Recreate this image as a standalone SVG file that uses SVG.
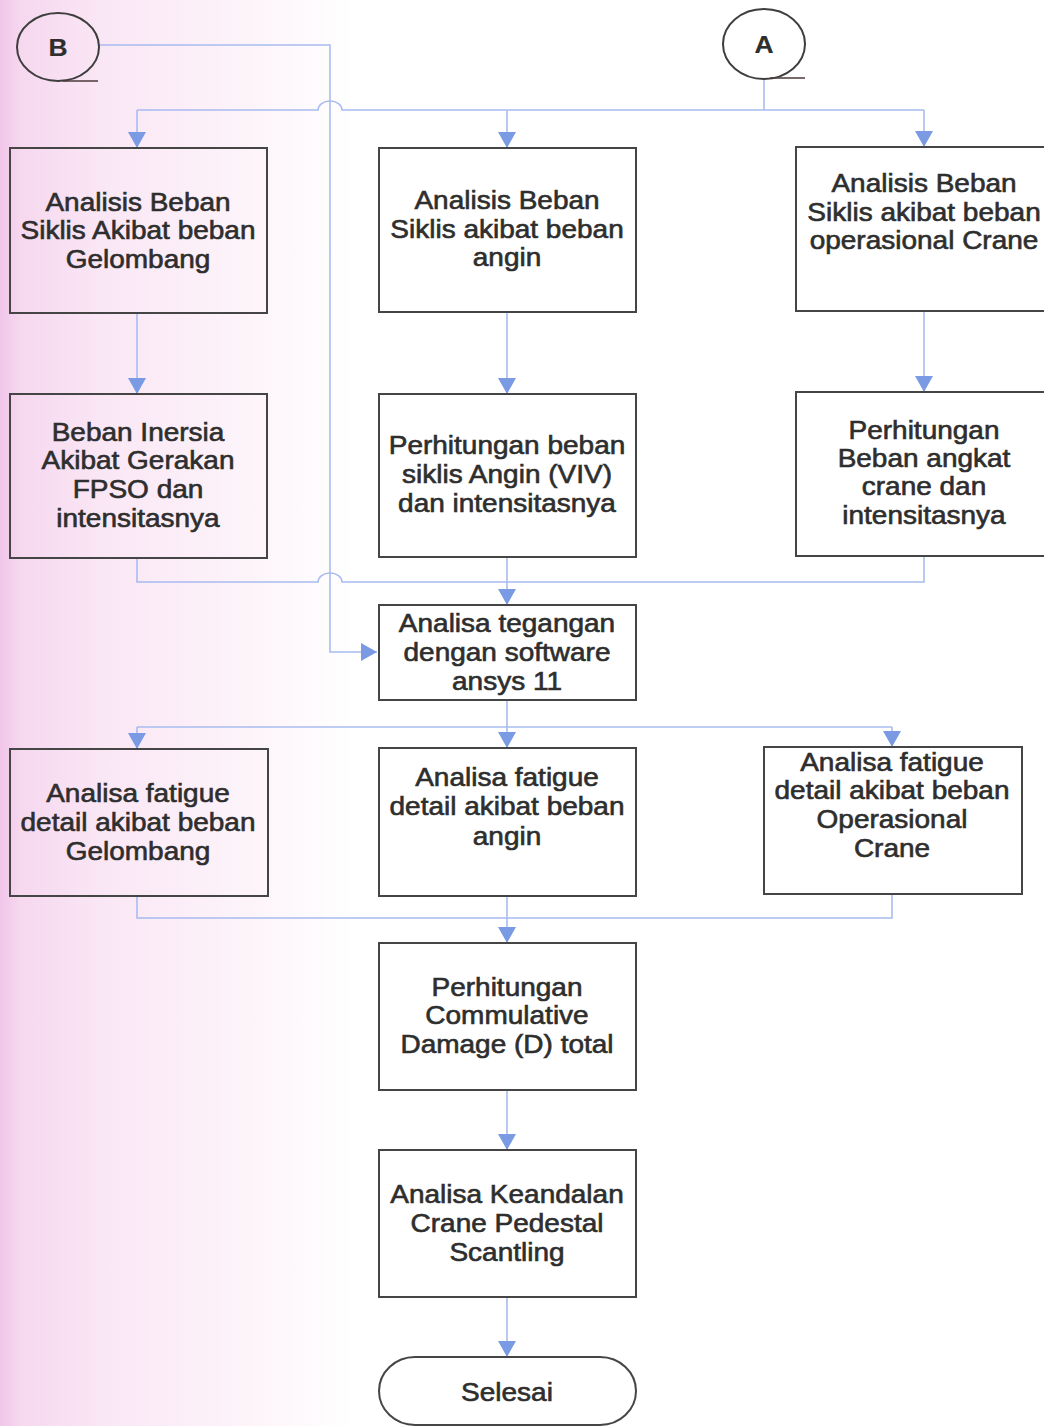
<svg xmlns="http://www.w3.org/2000/svg" width="1044" height="1426" viewBox="0 0 1044 1426">
<defs>
<linearGradient id="bg" x1="0" y1="0" x2="1" y2="0">
<stop offset="0" stop-color="#f1c6ea"/>
<stop offset="0.02" stop-color="#f6d8ef"/>
<stop offset="0.1" stop-color="#fae7f5"/>
<stop offset="0.24" stop-color="#fdf4fa"/>
<stop offset="0.34" stop-color="#ffffff"/>
<stop offset="1" stop-color="#ffffff"/>
</linearGradient>
<marker id="ah" markerUnits="userSpaceOnUse" markerWidth="18" markerHeight="18" viewBox="0 0 16 18" refX="16" refY="9" orient="auto">
<path d="M0,0 L16,9 L0,18 Z" fill="#7b9ae4"/>
</marker>
<style>
.box{fill:none;stroke:#454545;stroke-width:2}
.con{fill:none;stroke:#a8bcef;stroke-width:1.6}
.t{font-family:"Liberation Sans",Arial,sans-serif;font-size:25px;fill:#2e2e2e;stroke:#2e2e2e;stroke-width:0.6;text-anchor:middle}
.lbl{font-size:24px;font-weight:bold;stroke-width:0.2}
.tail{fill:none;stroke:#4a3a3a;stroke-width:1.6}
</style>
</defs>
<rect x="0" y="0" width="1044" height="1426" fill="url(#bg)"/>

<g id="connectors">
<path class="con" d="M99,45 H330 V652 H377" marker-end="url(#ah)"/>
<path class="con" d="M764,79 V110"/>
<path class="con" d="M137,110 H318 A12,9 0 0 1 342,110 H924"/>
<path class="con" d="M137,110 V148" marker-end="url(#ah)"/>
<path class="con" d="M507,110 V148" marker-end="url(#ah)"/>
<path class="con" d="M924,110 V147" marker-end="url(#ah)"/>
<path class="con" d="M137,313 V394" marker-end="url(#ah)"/>
<path class="con" d="M507,312 V394" marker-end="url(#ah)"/>
<path class="con" d="M924,311 V392" marker-end="url(#ah)"/>
<path class="con" d="M137,558 V582 H318 A12,9 0 0 1 342,582 H924 V556"/>
<path class="con" d="M507,557 V605" marker-end="url(#ah)"/>
<path class="con" d="M507,700 V748" marker-end="url(#ah)"/>
<path class="con" d="M137,727 H892"/>
<path class="con" d="M137,727 V749" marker-end="url(#ah)"/>
<path class="con" d="M892,727 V747" marker-end="url(#ah)"/>
<path class="con" d="M137,896 V918 H892 V894"/>
<path class="con" d="M507,896 V943" marker-end="url(#ah)"/>
<path class="con" d="M507,1090 V1150" marker-end="url(#ah)"/>
<path class="con" d="M507,1297 V1357" marker-end="url(#ah)"/>
</g>

<g id="nodeB">
<ellipse cx="58" cy="47" rx="41" ry="34" fill="none" stroke="#3e3e3e" stroke-width="2"/>
<path class="tail" d="M63,81 H98"/>
<g transform="translate(58 0) scale(1.1 1)"><text class="t lbl" x="0" y="56">B</text></g>
</g>

<g id="nodeA">
<ellipse cx="764" cy="44" rx="41" ry="35" fill="none" stroke="#3e3e3e" stroke-width="2"/>
<path class="tail" d="M770,78 H805"/>
<g transform="translate(764 0) scale(1.1 1)"><text class="t lbl" x="0" y="53">A</text></g>
</g>

<g id="n1">
<rect class="box" x="10" y="148" width="257" height="165"/>
<g transform="translate(138 0) scale(1.12 1)">
<text class="t" x="0" y="211">Analisis Beban</text>
<text class="t" x="0" y="239">Siklis Akibat beban</text>
<text class="t" x="0" y="268">Gelombang</text>
</g>
</g>

<g id="n2">
<rect class="box" x="379" y="148" width="257" height="164"/>
<g transform="translate(507 0) scale(1.12 1)">
<text class="t" x="0" y="209">Analisis Beban</text>
<text class="t" x="0" y="238">Siklis akibat beban</text>
<text class="t" x="0" y="266">angin</text>
</g>
</g>

<g id="n3">
<rect class="box" x="796" y="147" width="260" height="164"/>
<g transform="translate(924 0) scale(1.12 1)">
<text class="t" x="0" y="192">Analisis Beban</text>
<text class="t" x="0" y="221">Siklis akibat beban</text>
<text class="t" x="0" y="249">operasional Crane</text>
</g>
</g>

<g id="n4">
<rect class="box" x="10" y="394" width="257" height="164"/>
<g transform="translate(138 0) scale(1.12 1)">
<text class="t" x="0" y="441">Beban Inersia</text>
<text class="t" x="0" y="469">Akibat Gerakan</text>
<text class="t" x="0" y="498">FPSO dan</text>
<text class="t" x="0" y="527">intensitasnya</text>
</g>
</g>

<g id="n5">
<rect class="box" x="379" y="394" width="257" height="163"/>
<g transform="translate(507 0) scale(1.12 1)">
<text class="t" x="0" y="454">Perhitungan beban</text>
<text class="t" x="0" y="483">siklis Angin (VIV)</text>
<text class="t" x="0" y="512">dan intensitasnya</text>
</g>
</g>

<g id="n6">
<rect class="box" x="796" y="392" width="260" height="164"/>
<g transform="translate(924 0) scale(1.12 1)">
<text class="t" x="0" y="439">Perhitungan</text>
<text class="t" x="0" y="467">Beban angkat</text>
<text class="t" x="0" y="495">crane dan</text>
<text class="t" x="0" y="524">intensitasnya</text>
</g>
</g>

<g id="n7">
<rect class="box" x="379" y="605" width="257" height="95"/>
<g transform="translate(507 0) scale(1.12 1)">
<text class="t" x="0" y="632">Analisa tegangan</text>
<text class="t" x="0" y="661">dengan software</text>
<text class="t" x="0" y="690">ansys 11</text>
</g>
</g>

<g id="n8">
<rect class="box" x="10" y="749" width="258" height="147"/>
<g transform="translate(138 0) scale(1.12 1)">
<text class="t" x="0" y="802">Analisa fatigue</text>
<text class="t" x="0" y="831">detail akibat beban</text>
<text class="t" x="0" y="860">Gelombang</text>
</g>
</g>

<g id="n9">
<rect class="box" x="379" y="748" width="257" height="148"/>
<g transform="translate(507 0) scale(1.12 1)">
<text class="t" x="0" y="786">Analisa fatigue</text>
<text class="t" x="0" y="815">detail akibat beban</text>
<text class="t" x="0" y="845">angin</text>
</g>
</g>

<g id="n10">
<rect class="box" x="764" y="747" width="258" height="147"/>
<g transform="translate(892 0) scale(1.12 1)">
<text class="t" x="0" y="771">Analisa fatigue</text>
<text class="t" x="0" y="799">detail akibat beban</text>
<text class="t" x="0" y="828">Operasional</text>
<text class="t" x="0" y="857">Crane</text>
</g>
</g>

<g id="n11">
<rect class="box" x="379" y="943" width="257" height="147"/>
<g transform="translate(507 0) scale(1.12 1)">
<text class="t" x="0" y="996">Perhitungan</text>
<text class="t" x="0" y="1024">Commulative</text>
<text class="t" x="0" y="1053">Damage (D) total</text>
</g>
</g>

<g id="n12">
<rect class="box" x="379" y="1150" width="257" height="147"/>
<g transform="translate(507 0) scale(1.12 1)">
<text class="t" x="0" y="1203">Analisa Keandalan</text>
<text class="t" x="0" y="1232">Crane Pedestal</text>
<text class="t" x="0" y="1261">Scantling</text>
</g>
</g>

<g id="n13">
<rect class="box" x="379" y="1357" width="257" height="68" rx="36" ry="34"/>
<g transform="translate(507 0) scale(1.12 1)">
<text class="t" x="0" y="1401">Selesai</text>
</g>
</g>
</svg>
